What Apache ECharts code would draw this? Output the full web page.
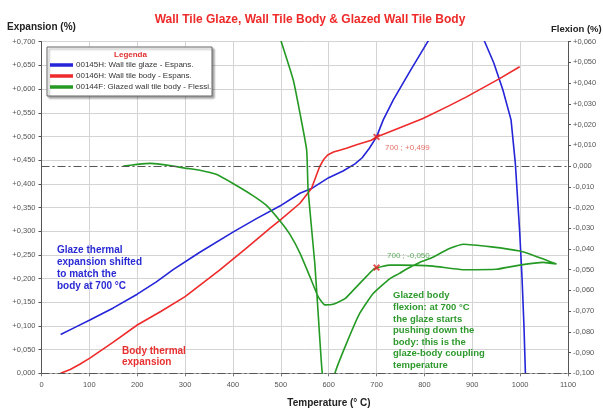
<!DOCTYPE html>
<html>
<head>
<meta charset="utf-8">
<script src="https://cdn.jsdelivr.net/npm/echarts@6/dist/echarts.min.js"></script>
<style>
  html, body { margin: 0; padding: 0; background: #ffffff; }
  #chart { width: 603px; height: 409px; }
</style>
</head>
<body>
<div id="chart"></div>
<script>
// ---------- data ----------
const chartTitle = 'Wall Tile Glaze, Wall Tile Body & Glazed Wall Tile Body';
const seriesNames = [
  '00145H: Wall tile glaze - Espans.',
  '00146H: Wall tile body - Espans.',
  '00144F: Glazed wall tile body - Flessi.'
];
const xTicks = { min: 0, max: 1100, interval: 100 };
const leftTicks = { min: 0, max: 0.7, interval: 0.05 };
const rightTicks = { min: -0.1, max: 0.06, interval: 0.01 };

// glaze expansion (%), [temperature, value]
const glazeExpansion = [
  [40, 0.082], [70, 0.097], [101, 0.1125], [150, 0.138], [200, 0.167], [240, 0.193],
  [275, 0.219], [330, 0.255], [400, 0.298], [450, 0.327], [498, 0.353], [540, 0.38],
  [564, 0.39], [600, 0.413], [630, 0.427], [655, 0.442], [670, 0.455], [685, 0.475], [700, 0.499],
  [714, 0.535], [735, 0.577], [770, 0.638], [807, 0.70], [840, 0.748], [865, 0.77],
  [890, 0.77], [910, 0.745], [926, 0.70], [945, 0.655], [964, 0.598], [981, 0.535],
  [990, 0.443], [999, 0.30], [1004, 0.2], [1008, 0.1], [1011, 0.0], [1013, -0.05]
];
// body expansion (%)
const bodyExpansion = [
  [40, 0.0], [60, 0.008], [80, 0.019], [101, 0.032], [150, 0.066], [200, 0.102], [250, 0.131],
  [300, 0.162], [372, 0.218], [430, 0.266], [477, 0.306], [498, 0.323], [540, 0.359],
  [564, 0.39], [581, 0.436], [590, 0.452], [598, 0.461], [610, 0.467], [623, 0.471], [637, 0.475],
  [660, 0.483], [689, 0.492], [700, 0.499], [750, 0.519], [797, 0.538], [850, 0.564],
  [888, 0.5835], [957, 0.622], [999, 0.647]
];
// glazed body flexion (%), heating then cooling
const glazedFlexion = [
  [171, 0.0], [200, 0.0008], [227, 0.0013], [250, 0.0008], [275, 0.0], [300, -0.001],
  [331, -0.002], [365, -0.004], [400, -0.0084], [440, -0.014], [470, -0.019], [500, -0.027],
  [519, -0.033], [540, -0.042], [561, -0.0535], [578, -0.063], [592, -0.067], [609, -0.0667],
  [634, -0.064], [658, -0.0583], [680, -0.053], [696, -0.0494], [728, -0.0478], [750, -0.0478],
  [818, -0.0483], [880, -0.050], [950, -0.0498], [999, -0.0478], [1048, -0.0465], [1076, -0.0473],
  [1050, -0.045], [1027, -0.043], [999, -0.041], [940, -0.039], [881, -0.0377], [850, -0.040],
  [818, -0.044], [790, -0.0465], [760, -0.050], [748, -0.0518], [728, -0.0543], [693, -0.0615],
  [665, -0.071], [637, -0.0857], [613, -0.1], [600, -0.115], [587, -0.101], [578, -0.071],
  [571, -0.047], [557, -0.0116], [554, 0.0077], [540, 0.0255], [526, 0.0415], [501.5, 0.0596],
  [490, 0.068]
];
const flexionZeroLines = [0, -0.1];
const bodyMarker = [700, 0.499];
const bodyMarkerLabel = '700 ; +0,499';
const flexionMarker = [700, -0.049];
const flexionMarkerLabel = '700 ; -0,050';

const glazeNote = 'Glaze thermal\nexpansion shifted\nto match the\nbody at 700 °C';
const bodyNote = 'Body thermal\nexpansion';
const flexionNote = 'Glazed body\nflexion: at 700 °C\nthe glaze starts\npushing down the\nbody: this is the\nglaze-body coupling\ntemperature';

// ---------- style ----------
const BLUE = '#2424d8', RED = '#ee2a2a', GREEN = '#249a24';
const FONT = '"Liberation Sans", Arial, sans-serif';

function fmt(v) {
  if (Math.abs(v) < 1e-9) return '0,000';
  const s = Math.abs(v).toFixed(3).replace('.', ',');
  return (v > 0 ? '+' : '-') + s;
}

const xMark = 'path://M0,2L2,0L5,3L8,0L10,2L7,5L10,8L8,10L5,7L2,10L0,8L3,5Z';

const chart = echarts.init(document.getElementById('chart'), null, { renderer: 'canvas' });
chart.setOption({
  animation: false,
  backgroundColor: '#ffffff',
  title: {
    text: chartTitle, left: 305, top: 9, textAlign: 'center',
    textStyle: { color: '#ee2a2a', fontSize: 12, fontWeight: 'bold', fontFamily: FONT }
  },
  grid: { left: 41.5, right: 35, top: 41.7, bottom: 35.7, containLabel: false },
  legend: {
    data: seriesNames, orient: 'vertical', left: 50, top: 61, padding: 0,
    icon: 'rect', itemWidth: 23, itemHeight: 3.5, itemGap: 3, z: 12,
    textStyle: { fontSize: 8, color: '#333', fontFamily: FONT, padding: [0, 0, 0, -2] }
  },
  xAxis: {
    type: 'value', min: xTicks.min, max: xTicks.max, interval: xTicks.interval,
    axisLine: { show: true, lineStyle: { color: '#aaa' } },
    axisTick: { show: true, length: 3, lineStyle: { color: '#777' } },
    axisLabel: { fontSize: 7.5, color: '#555', fontFamily: FONT, margin: 8, formatter: v => String(v) },
    splitLine: { show: true, lineStyle: { color: '#d4d4d4' } }
  },
  yAxis: [
    {
      type: 'value', position: 'left', min: leftTicks.min, max: leftTicks.max, interval: leftTicks.interval,
      axisLine: { show: true, lineStyle: { color: '#555' } },
      axisTick: { show: true, length: 3, lineStyle: { color: '#555' } },
      axisLabel: { fontSize: 7.5, color: '#555', fontFamily: FONT, margin: 6, formatter: fmt },
      splitLine: { show: true, lineStyle: { color: '#d4d4d4' } }
    },
    {
      type: 'value', position: 'right', min: rightTicks.min, max: rightTicks.max, interval: rightTicks.interval,
      axisLine: { show: true, lineStyle: { color: '#555' } },
      axisTick: { show: true, length: 3, lineStyle: { color: '#555' } },
      axisLabel: { fontSize: 7.5, color: '#555', fontFamily: FONT, margin: 5, formatter: fmt },
      splitLine: { show: false }
    }
  ],
  series: [
    {
      name: seriesNames[0], type: 'line', yAxisIndex: 0, data: glazeExpansion,
      showSymbol: false, symbol: 'none', smooth: false, clip: true,
      lineStyle: { color: BLUE, width: 1.6 }, itemStyle: { color: BLUE }, z: 3
    },
    {
      name: seriesNames[1], type: 'line', yAxisIndex: 0, data: bodyExpansion,
      showSymbol: false, symbol: 'none', smooth: false, clip: true,
      lineStyle: { color: RED, width: 1.6 }, itemStyle: { color: RED }, z: 3
    },
    {
      name: seriesNames[2], type: 'line', yAxisIndex: 1, data: glazedFlexion,
      showSymbol: false, symbol: 'none', smooth: 0.15, clip: true,
      lineStyle: { color: GREEN, width: 1.6 }, itemStyle: { color: GREEN }, z: 3,
      markLine: {
        silent: true, symbol: 'none', label: { show: false },
        lineStyle: { color: '#555', width: 1, type: [8, 3, 2, 3] },
        data: flexionZeroLines.map(v => ({ yAxis: v }))
      }
    },
    {
      name: 'bodyMarker', type: 'scatter', yAxisIndex: 0, data: [bodyMarker],
      symbol: xMark, symbolSize: 7, itemStyle: { color: '#e02020' }, z: 5,
      label: {
        show: true, formatter: bodyMarkerLabel, position: 'right', offset: [0, 11],
        fontSize: 8, color: '#e04a40', fontFamily: FONT
      }
    },
    {
      name: 'flexionMarker', type: 'scatter', yAxisIndex: 1, data: [flexionMarker],
      symbol: xMark, symbolSize: 7, itemStyle: { color: '#e02020' }, z: 5,
      label: {
        show: true, formatter: flexionMarkerLabel, position: 'right', offset: [2, -12],
        fontSize: 8, color: '#3a9a3a', fontFamily: FONT
      }
    }
  ],
  graphic: [
    {
      type: 'rect', z: 10, shape: { x: 47, y: 47, width: 165, height: 49 },
      style: { fill: '#fff', stroke: '#666', lineWidth: 1, shadowBlur: 2, shadowOffsetX: 2, shadowOffsetY: 2, shadowColor: 'rgba(0,0,0,0.35)' }
    },
    {
      type: 'text', z: 11, x: 130.5, y: 54.5,
      style: { text: 'Legenda', fill: '#e03030', font: 'bold 8px ' + FONT, textAlign: 'center', textVerticalAlign: 'middle' }
    },
    {
      type: 'text', z: 11, x: 7, y: 27,
      style: { text: 'Expansion (%)', fill: '#222', font: 'bold 10px ' + FONT, textAlign: 'left', textVerticalAlign: 'middle' }
    },
    {
      type: 'text', z: 11, x: 551, y: 29,
      style: { text: 'Flexion (%)', fill: '#222', font: 'bold 9.5px ' + FONT, textAlign: 'left', textVerticalAlign: 'middle' }
    },
    {
      type: 'text', z: 11, x: 329, y: 403,
      style: { text: 'Temperature (° C)', fill: '#222', font: 'bold 10px ' + FONT, textAlign: 'center', textVerticalAlign: 'middle' }
    },
    {
      type: 'text', z: 11, x: 57, y: 244,
      style: { text: glazeNote, fill: '#2a2ad4', font: 'bold 10px ' + FONT, lineHeight: 12, textAlign: 'left', textVerticalAlign: 'top' }
    },
    {
      type: 'text', z: 11, x: 122, y: 345,
      style: { text: bodyNote, fill: '#e83030', font: 'bold 10px ' + FONT, lineHeight: 11.5, textAlign: 'left', textVerticalAlign: 'top' }
    },
    {
      type: 'text', z: 11, x: 393, y: 290,
      style: { text: flexionNote, fill: '#2e9a2e', font: 'bold 9.5px ' + FONT, lineHeight: 11.6, textAlign: 'left', textVerticalAlign: 'top' }
    }
  ]
});
</script>
</body>
</html>
